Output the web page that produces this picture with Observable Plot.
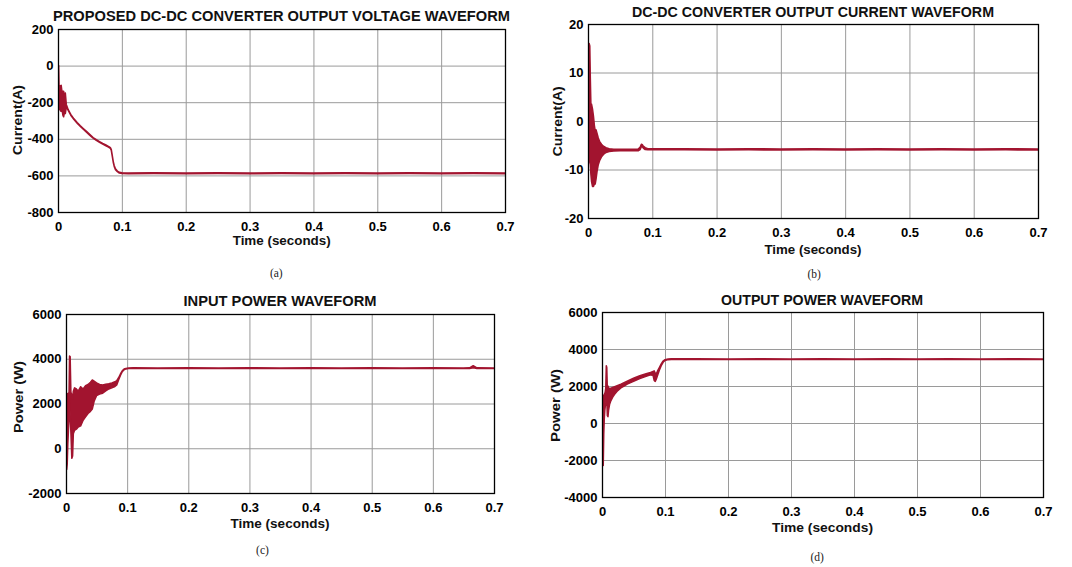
<!DOCTYPE html>
<html>
<head>
<meta charset="utf-8">
<script src="https://cdn.jsdelivr.net/npm/d3@7"></script>
<script src="https://cdn.jsdelivr.net/npm/@observablehq/plot@0.6"></script>
<style>
  html, body { margin: 0; padding: 0; background: #fff; }
  #root { position: relative; width: 1072px; height: 567px; overflow: hidden; background: #fff; }
  #root > svg { position: absolute; }
</style>
</head>
<body>
<div id="root"></div>
<script>
// ---------- shared axis ticks ----------
const xTicks = [0, 0.1, 0.2, 0.3, 0.4, 0.5, 0.6, 0.7];

// ---------- (a) converter output "voltage" (axis labelled Current(A)) ----------
const tA  = [0.001, 0.0016, 0.0025, 0.0035, 0.005, 0.0065, 0.0075, 0.0088, 0.0102, 0.0115, 0.013, 0.016, 0.02, 0.025, 0.03, 0.035, 0.04, 0.045, 0.05, 0.055, 0.06, 0.065, 0.07, 0.075, 0.079, 0.082, 0.0835, 0.085, 0.0865, 0.088, 0.09, 0.093, 0.096, 0.1, 0.11, 0.15, 0.2, 0.25, 0.3, 0.35, 0.4, 0.45, 0.5, 0.55, 0.6, 0.65, 0.7];
const hiA = [0, -105, -120, -110, -108, -150, -140, -140, -165, -150, -212, -241, -267, -291, -311, -329, -345, -361, -377, -393, -405, -415, -425, -434, -441, -448, -459, -491, -523, -546, -564, -576, -583, -586, -587, -586, -587, -586, -587, -586, -587, -586, -587, -586, -587, -586, -587];
const loA = [-240, -238, -230, -245, -250, -240, -270, -280, -255, -262, -226, -245, -271, -295, -315, -333, -349, -365, -381, -397, -409, -419, -429, -438, -445, -452, -464, -496, -528, -551, -569, -580, -587, -590, -591, -590, -591, -590, -591, -590, -591, -590, -591, -590, -591, -590, -591];
const yTicksA = [-800, -600, -400, -200, 0, 200];

// ---------- (b) converter output current ----------
const tB  = [0.001, 0.0018, 0.0028, 0.0036, 0.0045, 0.0055, 0.007, 0.0085, 0.010, 0.0112, 0.0125, 0.014, 0.016, 0.018, 0.021, 0.024, 0.028, 0.033, 0.04, 0.05, 0.06, 0.07, 0.078, 0.081, 0.083, 0.0845, 0.086, 0.089, 0.093, 0.1, 0.15, 0.2, 0.25, 0.3, 0.35, 0.4, 0.45, 0.5, 0.55, 0.6, 0.65, 0.7];
const hiB = [-4, 16, 15.5, 9, 3.5, 3.5, 2.5, 1, -1, -2, -1.8, -2.5, -3.5, -4.2, -4.8, -5.2, -5.5, -5.7, -5.8, -5.8, -5.8, -5.8, -5.8, -5.4, -4.8, -4.9, -5.2, -5.5, -5.7, -5.7, -5.7, -5.75, -5.7, -5.75, -5.7, -5.75, -5.7, -5.75, -5.7, -5.75, -5.7, -5.75];
const loB = [-8, -8, -8.5, -9, -11, -12.5, -13.5, -13.5, -13, -13, -12, -10.5, -9, -8.2, -7.4, -6.9, -6.5, -6.3, -6.2, -6.15, -6.15, -6.15, -6.15, -5.9, -5.3, -5.3, -5.6, -5.9, -5.95, -5.95, -5.95, -6.0, -5.95, -6.0, -5.95, -6.0, -5.95, -6.0, -5.95, -6.0, -5.95, -6.0];
const yTicksB = [-20, -10, 0, 10, 20];

// ---------- (c) input power ----------
const tC  = [0.0012, 0.002, 0.003, 0.004, 0.005, 0.0058, 0.0068, 0.008, 0.0095, 0.0108, 0.012, 0.014, 0.017, 0.02, 0.024, 0.028, 0.032, 0.036, 0.04, 0.043, 0.046, 0.05, 0.055, 0.06, 0.065, 0.07, 0.075, 0.08, 0.083, 0.086, 0.089, 0.092, 0.095, 0.098, 0.102, 0.11, 0.15, 0.2, 0.25, 0.3, 0.35, 0.4, 0.45, 0.5, 0.55, 0.6, 0.65, 0.66, 0.666, 0.672, 0.7];
const hiC = [2450, 2450, 2400, 2450, 2500, 4120, 4100, 2500, 2400, 2200, 2550, 2700, 2650, 2550, 2750, 2650, 2800, 2850, 2950, 3050, 3000, 2920, 2850, 2830, 2860, 2880, 2920, 2970, 3020, 3150, 3320, 3460, 3540, 3570, 3590, 3595, 3590, 3595, 3590, 3595, 3590, 3595, 3590, 3595, 3590, 3595, 3590, 3595, 3690, 3595, 3590];
const loC = [-950, -700, 200, 800, 1300, 2300, 1500, 700, -450, -350, 650, 800, 850, 950, 1000, 1250, 1400, 1550, 1650, 1750, 2100, 2350, 2420, 2460, 2560, 2650, 2700, 2760, 2830, 3050, 3250, 3420, 3510, 3545, 3565, 3565, 3560, 3565, 3560, 3565, 3560, 3565, 3560, 3565, 3560, 3565, 3560, 3565, 3600, 3565, 3560];
const yTicksC = [-2000, 0, 2000, 4000, 6000];

// ---------- (d) output power ----------
const tD  = [0.002, 0.0028, 0.0036, 0.0045, 0.0052, 0.006, 0.0068, 0.0076, 0.0085, 0.0095, 0.0105, 0.012, 0.014, 0.017, 0.02, 0.025, 0.03, 0.035, 0.04, 0.05, 0.06, 0.07, 0.077, 0.081, 0.0828, 0.0845, 0.086, 0.088, 0.091, 0.094, 0.097, 0.1, 0.105, 0.11, 0.15, 0.2, 0.25, 0.3, 0.35, 0.4, 0.45, 0.5, 0.55, 0.6, 0.65, 0.7];
const hiD = [1400, 1500, 1550, 1600, 1700, 1900, 3100, 3000, 1800, 2000, 1900, 1850, 1880, 1920, 1960, 2030, 2100, 2180, 2260, 2420, 2550, 2660, 2730, 2780, 2820, 2700, 2650, 2800, 3000, 3200, 3350, 3420, 3460, 3470, 3470, 3465, 3470, 3465, 3470, 3465, 3470, 3465, 3470, 3465, 3470, 3465];
const loD = [-2300, -600, 200, 700, 900, 1100, 1600, 1200, 400, 340, 700, 1000, 1200, 1400, 1550, 1750, 1900, 2000, 2100, 2250, 2400, 2520, 2600, 2580, 2300, 2250, 2350, 2550, 2850, 3100, 3280, 3380, 3425, 3435, 3435, 3430, 3435, 3430, 3435, 3430, 3435, 3430, 3435, 3430, 3435, 3430];
const yTicksD = [-4000, -2000, 0, 2000, 4000, 6000];

// ---------- texts ----------
const titles = ["PROPOSED DC-DC CONVERTER OUTPUT VOLTAGE WAVEFORM", "DC-DC CONVERTER OUTPUT CURRENT WAVEFORM", "INPUT POWER WAVEFORM", "OUTPUT POWER WAVEFORM"];
const xLabel = "Time (seconds)";
const yLabels = ["Current(A)", "Current(A)", "Power (W)", "Power (W)"];
const captions = ["(a)", "(b)", "(c)", "(d)"];

// ---------- layout / style ----------
const LINE = "#A2142F";
const GRID = "#9a9a9a";
const FONT = "'Liberation Sans', Arial, Helvetica, sans-serif";

const panels = [
  {t: tA, lo: loA, hi: hiA, yTicks: yTicksA, left: 0,   top: 0,   width: 530, height: 250, mL: 58, mR: 25, mT: 29, mB: 38},
  {t: tB, lo: loB, hi: hiB, yTicks: yTicksB, left: 530, top: 0,   width: 542, height: 250, mL: 58, mR: 34, mT: 24, mB: 32},
  {t: tC, lo: loC, hi: hiC, yTicks: yTicksC, left: 0,   top: 285, width: 530, height: 250, mL: 66, mR: 36, mT: 29, mB: 42},
  {t: tD, lo: loD, hi: hiD, yTicks: yTicksD, left: 530, top: 285, width: 542, height: 250, mL: 72, mR: 29, mT: 27, mB: 38}
];

// text placement (centre x, baseline y, target width)
const titlePos = [
  {x: 281.5, y: 20.5, w: 457}, {x: 813, y: 16.5, w: 362}, {x: 280, y: 305.5, w: 193}, {x: 822, y: 304.5, w: 202}
];
const xLabelPos = [
  {x: 281.7, y: 245, w: 98}, {x: 813, y: 253.5, w: 97}, {x: 280, y: 528, w: 99}, {x: 822.5, y: 531.5, w: 101}
];
const yLabelPos = [
  {x: 22, y: 120, w: 70}, {x: 561.5, y: 121.3, w: 70}, {x: 23, y: 397, w: 72}, {x: 560, y: 405.5, w: 73}
];
const captionPos = [
  {x: 276.3, y: 276.5}, {x: 814.2, y: 277.5}, {x: 262.5, y: 554}, {x: 817.2, y: 560.5}
];

const root = document.getElementById("root");
const fmt = d => String(d);

panels.forEach((p) => {
  const rows = p.t.map((v, i) => ({t: v, lo: p.lo[i], hi: p.hi[i]}));
  const yDom = [p.yTicks[0], p.yTicks[p.yTicks.length - 1]];
  const chart = Plot.plot({
    width: p.width,
    height: p.height,
    marginLeft: p.mL, marginRight: p.mR, marginTop: p.mT, marginBottom: p.mB,
    style: {fontFamily: FONT, fontSize: "13px", fontWeight: "bold", color: "#000", background: "transparent", overflow: "visible"},
    x: {domain: [0, 0.7], ticks: xTicks, tickFormat: fmt, tickSize: 0, tickPadding: 9, label: null},
    y: {domain: yDom, ticks: p.yTicks, tickFormat: fmt, tickSize: 0, tickPadding: 5, label: null},
    marks: [
      Plot.ruleX(xTicks, {stroke: GRID, strokeWidth: 1}),
      Plot.ruleY(p.yTicks, {stroke: GRID, strokeWidth: 1}),
      Plot.areaY(rows, {x: "t", y1: "lo", y2: "hi", fill: LINE, stroke: LINE, strokeWidth: 1.5, strokeLinejoin: "round", clip: true}),
      Plot.frame({stroke: "#000", strokeWidth: 1.3})
    ]
  });
  chart.style.left = p.left + "px";
  chart.style.top = p.top + "px";
  root.appendChild(chart);
});

// overlay with titles, axis labels and captions
const svg = d3.select(root).append("svg")
  .attr("width", 1072).attr("height", 567)
  .style("left", "0px").style("top", "0px")
  .attr("font-family", FONT);

titles.forEach((s, i) => {
  const p = titlePos[i];
  svg.append("text").attr("x", p.x).attr("y", p.y)
    .attr("text-anchor", "middle").attr("font-size", 14.5).attr("font-weight", "bold")
    .attr("fill", "#111").attr("textLength", p.w).attr("lengthAdjust", "spacingAndGlyphs")
    .text(s);
});
xLabelPos.forEach((p) => {
  svg.append("text").attr("x", p.x).attr("y", p.y)
    .attr("text-anchor", "middle").attr("font-size", 13.5).attr("font-weight", "bold")
    .attr("fill", "#111").attr("textLength", p.w).attr("lengthAdjust", "spacingAndGlyphs")
    .text(xLabel);
});
yLabels.forEach((s, i) => {
  const p = yLabelPos[i];
  svg.append("text").attr("transform", `translate(${p.x},${p.y}) rotate(-90)`)
    .attr("text-anchor", "middle").attr("font-size", 13.5).attr("font-weight", "bold")
    .attr("fill", "#111").attr("textLength", p.w).attr("lengthAdjust", "spacingAndGlyphs")
    .text(s);
});
captions.forEach((s, i) => {
  const p = captionPos[i];
  svg.append("text").attr("x", p.x).attr("y", p.y)
    .attr("text-anchor", "middle").attr("font-size", 11.5)
    .attr("font-family", "'Liberation Serif', 'DejaVu Serif', serif")
    .attr("fill", "#222").text(s);
});
</script>
</body>
</html>
